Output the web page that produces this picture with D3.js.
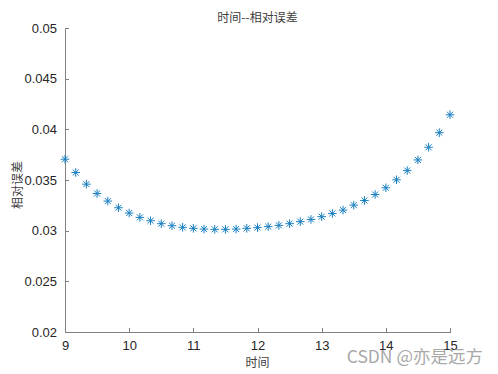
<!DOCTYPE html>
<meta charset="utf-8">
<style>
    body { margin: 0; background: #fff; }
    .axis path, .axis line { fill: none; stroke: #808080; shape-rendering: crispEdges; }
    .axis text { font: 13px Arial, "Liberation Sans", sans-serif; fill: #262626; }
    .star line { stroke: #1a7fc0; stroke-width: 1; }
    .lbl { font-family: "Noto Sans CJK SC", sans-serif; fill: #404040; }
</style>
<body>
<script src="https://d3js.org/d3.v7.min.js"></script>
<script>
    // time values (9 .. 15, 37 samples)
    var times = [9, 9.1667, 9.3333, 9.5, 9.6667, 9.8333, 10, 10.1667, 10.3333, 10.5, 10.6667, 10.8333,
        11, 11.1667, 11.3333, 11.5, 11.6667, 11.8333, 12, 12.1667, 12.3333, 12.5, 12.6667, 12.8333,
        13, 13.1667, 13.3333, 13.5, 13.6667, 13.8333, 14, 14.1667, 14.3333, 14.5, 14.6667, 14.8333, 15];
    // relative error
    var errors = [0.03705, 0.03574, 0.03459, 0.03367, 0.03292, 0.03226, 0.03174, 0.03131, 0.03098, 0.03069,
        0.03049, 0.03033, 0.03023, 0.03016, 0.03013, 0.03013, 0.03016, 0.03023, 0.0303, 0.0304,
        0.03052, 0.03069, 0.03089, 0.03111, 0.03138, 0.0317, 0.03203, 0.03252, 0.03298, 0.03357,
        0.03423, 0.03502, 0.03593, 0.03698, 0.03823, 0.03967, 0.04144];
    var xTicks = [9, 10, 11, 12, 13, 14, 15];
    var yTicks = [0.02, 0.025, 0.03, 0.035, 0.04, 0.045, 0.05];

    var margin = {top: 28, right: 48, bottom: 42, left: 65},
        width = 498 - margin.left - margin.right,
        height = 374 - margin.top - margin.bottom;

    var x = d3.scaleLinear().domain([9, 15]).range([0, width]);
    var y = d3.scaleLinear().domain([0.02, 0.05]).range([height, 0]);

    var svg = d3.select("body").append("svg")
        .attr("width", 498)
        .attr("height", 374);

    var g = svg.append("g")
        .attr("transform", "translate(" + margin.left + "," + margin.top + ")");

    g.append("g")
        .attr("class", "x axis")
        .attr("transform", "translate(0," + height + ")")
        .call(d3.axisBottom(x).tickValues(xTicks).tickSizeInner(-4).tickSizeOuter(0).tickPadding(9).tickFormat(d3.format("d")));

    g.append("g")
        .attr("class", "y axis")
        .call(d3.axisLeft(y).tickValues(yTicks).tickSizeInner(-4).tickSizeOuter(0).tickPadding(8).tickFormat(function(d) { return +d.toFixed(3) + ""; }));

    // asterisk markers
    var r = 4.3;
    var stars = g.selectAll(".star")
        .data(times.map(function(t, i) { return {t: t, e: errors[i]}; }))
        .enter().append("g")
        .attr("class", "star")
        .attr("transform", function(d) { return "translate(" + x(d.t) + "," + y(d.e) + ")"; });
    [[-r, 0, r, 0], [0, -r, 0, r], [-r * 0.7, -r * 0.7, r * 0.7, r * 0.7], [-r * 0.7, r * 0.7, r * 0.7, -r * 0.7]].forEach(function(s) {
        stars.append("line").attr("x1", s[0]).attr("y1", s[1]).attr("x2", s[2]).attr("y2", s[3]);
    });

    svg.append("text").attr("class", "lbl")
        .attr("x", margin.left + width / 2).attr("y", 22)
        .attr("text-anchor", "middle").style("font-size", "12px")
        .text("时间--相对误差");

    svg.append("text").attr("class", "lbl")
        .attr("x", margin.left + width / 2).attr("y", 367)
        .attr("text-anchor", "middle").style("font-size", "12px")
        .text("时间");

    svg.append("text").attr("class", "lbl")
        .attr("transform", "translate(22," + (margin.top + height / 2 + 5) + ") rotate(-90)")
        .attr("text-anchor", "middle").style("font-size", "12px")
        .text("相对误差");

    // watermark
    svg.append("text")
        .attr("x", 483).attr("y", 363)
        .attr("text-anchor", "end")
        .style("font", "17.5px 'Noto Sans CJK SC', sans-serif")
        .style("fill", "#9a9a9a")
        .style("opacity", 0.85)
        .text("CSDN @亦是远方");
</script>
